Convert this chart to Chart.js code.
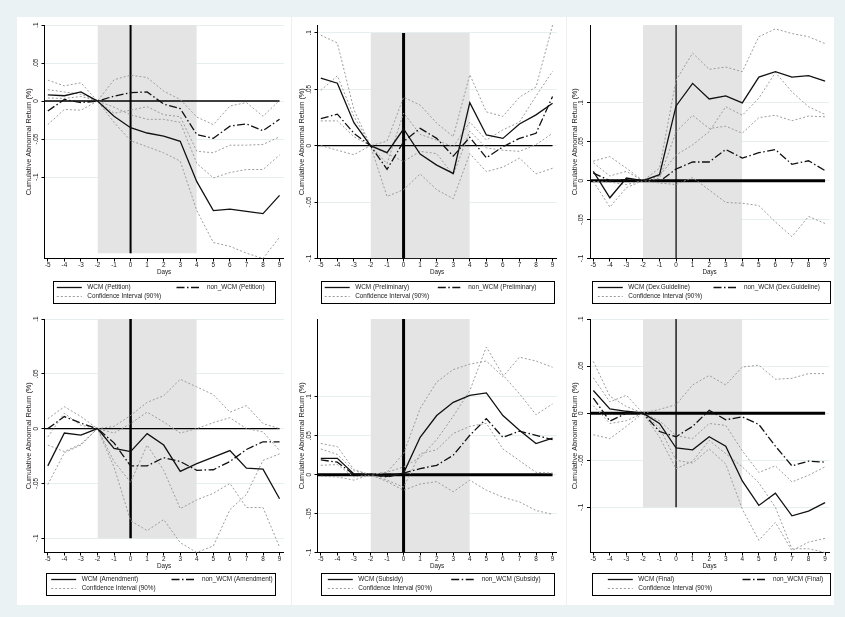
<!DOCTYPE html>
<html>
<head>
<meta charset="utf-8">
<script src="https://cdn.jsdelivr.net/npm/chart.js@4.4.1/dist/chart.umd.min.js"></script>
<style>
    html, body { margin: 0; padding: 0; background: #eaf2f3; }
    body { width: 845px; height: 617px; position: relative; overflow: hidden; }
    #sheet { position: absolute; left: 17px; top: 17px; width: 817px; height: 588px; background: #fff; }
    .sep { position: absolute; top: 17px; width: 1px; height: 588px; background: #eef0f0; }
    canvas { position: absolute; }
</style>
</head>
<body>
<div id="sheet"></div>
<div class="sep" style="left:291px"></div>
<div class="sep" style="left:566px"></div>
<canvas id="p0"></canvas><canvas id="p1"></canvas><canvas id="p2"></canvas>
<canvas id="p3"></canvas><canvas id="p4"></canvas><canvas id="p5"></canvas>
<script>
// event days and axis labels
const days = [-5, -4, -3, -2, -1, 0, 1, 2, 3, 4, 5, 6, 7, 8, 9];
const yTickVals = [-0.1, -0.05, 0, 0.05, 0.1];
const yTickLabels = ['-.1', '-.05', '0', '.05', '.1'];
const eventWindow = [-2, 4];
const eventDay = 0;

// Petition
const wcmPetition = [0.008, 0.007, 0.012, 0, -0.020, -0.035, -0.042, -0.046, -0.053, -0.106, -0.144, -0.142, -0.145, -0.148, -0.124];
const nonPetition = [-0.013, 0.002, -0.002, 0, 0.0065, 0.011, 0.012, -0.004, -0.010, -0.044, -0.049, -0.033, -0.030, -0.039, -0.024];
const ciPetition1 = [0.0275, 0.020, 0.024, 0, 0.028, 0.034, 0.031, 0.013, 0.002, -0.021, -0.031, -0.0065, -0.002, -0.020, 0.001];
const ciPetition2 = [-0.031, -0.011, -0.012, 0, -0.016, -0.012, -0.0074, -0.018, -0.0205, -0.066, -0.068, -0.058, -0.058, -0.057, -0.047];
const ciPetition3 = [0.015, 0.012, 0.009, 0, -0.008, -0.018, -0.024, -0.024, -0.028, -0.082, -0.101, -0.094, -0.090, -0.090, -0.071];
const ciPetition4 = [0.004, 0.0035, 0.006, 0, -0.028, -0.052, -0.060, -0.068, -0.079, -0.144, -0.186, -0.191, -0.200, -0.207, -0.179];

// Preliminary
const wcmPreliminary = [0.060, 0.0554, 0.0204, 0, -0.0062, 0.0148, -0.0074, -0.0172, -0.0246, 0.0382, 0.0095, 0.0065, 0.0193, 0.0273, 0.0376];
const nonPreliminary = [0.024, 0.028, 0.011, 0, -0.021, 0.0036, 0.0154, 0.0065, -0.0092, 0.0074, -0.0107, -0.001, 0.0065, 0.011, 0.0436];
const ciPreliminary1 = [0.098, 0.091, 0.032, 0, 0.004, 0.043, 0.036, 0.020, 0.008, 0.063, 0.030, 0.026, 0.043, 0.052, 0.107];
const ciPreliminary2 = [0.049, 0.062, 0.026, 0, -0.016, 0.029, 0.010, 0.005, -0.001, 0.021, 0.005, 0.014, 0.021, 0.044, 0.066];
const ciPreliminary3 = [0.022, 0.022, 0.008, 0, -0.007, -0.014, -0.005, -0.007, -0.026, 0.013, -0.002, -0.004, -0.005, 0.001, 0.011];
const ciPreliminary4 = [0, -0.004, -0.008, 0, -0.045, -0.039, -0.025, -0.039, -0.047, -0.007, -0.023, -0.019, -0.011, -0.025, -0.020];

// Dev.Guideline
const wcmGuideline = [0.012, -0.022, 0.0034, 0, 0.0077, 0.096, 0.125, 0.105, 0.109, 0.100, 0.133, 0.140, 0.133, 0.135, 0.128];
const nonGuideline = [0.0098, 0, 0.0013, 0, -0.001, 0.015, 0.024, 0.024, 0.040, 0.029, 0.036, 0.040, 0.021, 0.0256, 0.013];
const ciGuideline1 = [0.025, 0.031, 0.016, 0, 0.016, 0.129, 0.164, 0.143, 0.146, 0.140, 0.185, 0.195, 0.189, 0.185, 0.176];
const ciGuideline2 = [-0.001, -0.034, -0.009, 0, 0.003, 0.063, 0.084, 0.067, 0.070, 0.061, 0.081, 0.084, 0.077, 0.083, 0.082];
const ciGuideline3 = [0.023, 0.006, 0.012, 0, 0.006, 0.033, 0.046, 0.063, 0.095, 0.084, 0.106, 0.139, 0.114, 0.095, 0.085];
const ciGuideline4 = [-0.001, -0.002, -0.005, 0, -0.003, -0.005, 0.004, -0.012, -0.028, -0.029, -0.032, -0.053, -0.072, -0.046, -0.055];

// Amendment
const wcmAmendment = [-0.034, -0.004, -0.006, 0, -0.018, -0.021, -0.0046, -0.015, -0.039, -0.032, -0.026, -0.020, -0.036, -0.037, -0.064];
const nonAmendment = [0, 0.011, 0.005, 0, -0.013, -0.034, -0.034, -0.0265, -0.030, -0.038, -0.0375, -0.030, -0.019, -0.012, -0.012];
const ciAmendment1 = [0.009, 0.020, 0.011, 0, 0.002, 0.012, 0.024, 0.030, 0.045, 0.038, 0.031, 0.015, 0.021, 0.0046, 0];
const ciAmendment2 = [-0.0076, 0.014, 0.003, 0, -0.004, 0.0046, 0.015, 0.006, -0.004, 0, 0.0055, 0.010, 0, -0.003, -0.020];
const ciAmendment3 = [-0.015, -0.021, -0.014, 0, -0.030, -0.049, -0.015, -0.038, -0.073, -0.065, -0.059, -0.050, -0.072, -0.072, -0.108];
const ciAmendment4 = [-0.051, -0.022, -0.015, 0, -0.035, -0.084, -0.093, -0.083, -0.104, -0.113, -0.107, -0.074, -0.060, -0.029, -0.023];

// Subsidy
const wcmSubsidy = [0.021, 0.021, 0.001, 0, -0.002, 0.002, 0.048, 0.076, 0.093, 0.102, 0.105, 0.076, 0.057, 0.040, 0.047];
const nonSubsidy = [0.019, 0.016, 0, 0, -0.003, 0.002, 0.0077, 0.012, 0.025, 0.0506, 0.072, 0.048, 0.056, 0.0506, 0.045];
const ciSubsidy1 = [0.040, 0.036, 0.0064, 0, 0.0034, 0.027, 0.085, 0.119, 0.135, 0.142, 0.146, 0.126, 0.151, 0.146, 0.138];
const ciSubsidy2 = [0.033, 0.026, 0.005, 0, 0.003, 0.010, 0.022, 0.045, 0.075, 0.108, 0.164, 0.128, 0.104, 0.077, 0.091];
const ciSubsidy3 = [0.012, 0.013, -0.003, 0, -0.007, -0.016, 0.027, 0.032, 0.053, 0.062, 0.066, 0.033, 0.018, 0.003, 0.002];
const ciSubsidy4 = [-0.002, -0.003, -0.007, 0, -0.009, -0.020, -0.012, -0.009, -0.022, -0.007, -0.020, -0.029, -0.035, -0.046, -0.051];

// Final
const wcmFinal = [0.024, 0.0046, 0.002, 0, -0.011, -0.037, -0.039, -0.025, -0.035, -0.072, -0.098, -0.085, -0.109, -0.104, -0.095];
const nonFinal = [0.016, -0.0085, 0, 0, -0.0195, -0.025, -0.014, 0.003, -0.007, -0.004, -0.012, -0.035, -0.056, -0.051, -0.052];
const ciFinal1 = [0.055, 0.018, 0.007, 0, 0.004, 0.009, 0.030, 0.040, 0.030, 0.049, 0.051, 0.036, 0.037, 0.042, 0.042];
const ciFinal2 = [0.0376, 0.012, 0.019, 0, -0.008, -0.024, -0.027, -0.011, -0.013, -0.040, -0.063, -0.056, -0.073, -0.066, -0.057];
const ciFinal3 = [0.008, -0.011, -0.008, 0, -0.0255, -0.059, -0.051, -0.029, -0.043, -0.057, -0.074, -0.100, -0.144, -0.144, -0.148];
const ciFinal4 = [-0.023, -0.027, -0.014, 0, -0.0156, -0.050, -0.053, -0.038, -0.054, -0.102, -0.135, -0.116, -0.146, -0.137, -0.133];

// shaded event window height for each panel [bottom, top]
const shadeRanges = [[-0.2, 0.1], [-0.1, 0.1], [-0.1, 0.2], [-0.1, 0.1], [-0.1, 0.2], [-0.1, 0.1]];

const panels = [
    { event: 'Petition', wcm: wcmPetition, non: nonPetition, ci: [ciPetition1, ciPetition2, ciPetition3, ciPetition4] },
    { event: 'Preliminary', wcm: wcmPreliminary, non: nonPreliminary, ci: [ciPreliminary1, ciPreliminary2, ciPreliminary3, ciPreliminary4] },
    { event: 'Dev.Guideline', wcm: wcmGuideline, non: nonGuideline, ci: [ciGuideline1, ciGuideline2, ciGuideline3, ciGuideline4] },
    { event: 'Amendment', wcm: wcmAmendment, non: nonAmendment, ci: [ciAmendment1, ciAmendment2, ciAmendment3, ciAmendment4] },
    { event: 'Subsidy', wcm: wcmSubsidy, non: nonSubsidy, ci: [ciSubsidy1, ciSubsidy2, ciSubsidy3, ciSubsidy4] },
    { event: 'Final', wcm: wcmFinal, non: nonFinal, ci: [ciFinal1, ciFinal2, ciFinal3, ciFinal4] }
];

// layout (page pixels)
const colLeft = [17, 290, 566];
const colWidth = [273, 276, 268];
const plotLeft = [44.5, 317.5, 590];
const plotRight = [283.7, 556.7, 829.2];
const rowTop = [17, 308];
const rowHeight = [291, 297];
const plotTop = [25, 319];
const plotBottom = [258.5, 552.5];
const legendTop = [281, 573];
const legendBox = [[53, 222], [320.7, 233.3], [591.7, 237.6], [46, 229.3], [320.7, 233.3], [591.7, 237.6]];
const legendText = [[34.3, 154], [34.5, 147.6], [36.6, 152.3], [35.7, 156], [37.6, 161], [46.6, 181.3]];
const zeroWidth = [1.5, 1.3, 3, 1.3, 3, 3];
const eventWidth = [2, 3, 1.2, 2.5, 3, 1.3];

const FONT = "'Liberation Sans', Arial, sans-serif";
const X_MIN = -5.2, X_MAX = 9.25, X_AXIS_H = 20;

Chart.defaults.font.family = FONT;

// Stata style boxed legend drawn below the plot
const boxLegend = {
    id: 'boxLegend',
    afterDraw(chart, args, opts) {
        const ctx = chart.ctx;
        const ds = chart.data.datasets;
        ctx.save();
        ctx.strokeStyle = '#000';
        ctx.lineWidth = 1;
        ctx.setLineDash([]);
        ctx.strokeRect(Math.round(opts.left) + 0.5, Math.round(opts.top) + 0.5, Math.round(opts.width), 22);
        const items = [
            { d: ds[0], x: opts.text[0], y: opts.top + 5.5 },
            { d: ds[1], x: opts.text[1], y: opts.top + 5.5 },
            { d: ds[2], x: opts.text[0], y: opts.top + 15 }
        ];
        ctx.font = '6.4px ' + FONT;
        ctx.textBaseline = 'middle';
        items.forEach(it => {
            const x = opts.left + it.x;
            ctx.beginPath();
            ctx.setLineDash(it.d.borderDash || []);
            ctx.strokeStyle = it.d.borderColor;
            ctx.lineWidth = it.d.borderWidth;
            ctx.moveTo(x - 30.5, Math.round(it.y) + 0.5);
            ctx.lineTo(x - 5.5, Math.round(it.y) + 0.5);
            ctx.stroke();
            ctx.setLineDash([]);
            ctx.fillStyle = '#222';
            ctx.fillText(it.d.label, x, it.y + 0.5);
        });
        ctx.restore();
    }
};

function pts(arr) {
    return arr.map((v, i) => ({ x: days[i], y: v }));
}

function createPanel(idx) {
    const p = panels[idx];
    const c = idx % 3, r = Math.floor(idx / 3);
    const canvas = document.getElementById('p' + idx);
    canvas.width = colWidth[c];
    canvas.height = rowHeight[r];
    canvas.style.left = colLeft[c] + 'px';
    canvas.style.top = rowTop[r] + 'px';

    const shade = shadeRanges[idx];
    const all = [].concat(p.wcm, p.non, ...p.ci, shade);
    const yMin = Math.min(...all), yMax = Math.max(...all);
    const yW = plotLeft[c] - colLeft[c];

    new Chart(canvas.getContext('2d'), {
        type: 'line',
        data: {
            datasets: [
                { label: 'WCM (' + p.event + ')', data: pts(p.wcm), borderColor: '#111', borderWidth: 1.3, order: 0 },
                { label: 'non_WCM (' + p.event + ')', data: pts(p.non), borderColor: '#111', borderWidth: 1.3, borderDash: [8, 2.5, 1.5, 2.5], order: 0 },
                ...p.ci.map(a => ({ label: 'Confidence Interval (90%)', data: pts(a), borderColor: '#9c9c9c', borderWidth: 1, borderDash: [2, 2], order: 1 })),
                { label: 'zero', data: [{ x: X_MIN, y: 0 }, { x: days[days.length - 1], y: 0 }], borderColor: '#000', borderWidth: zeroWidth[idx], order: 5 },
                { label: 'event', data: [{ x: eventDay, y: shade[0] }, { x: eventDay, y: shade[1] }], borderColor: '#000', borderWidth: eventWidth[idx], order: 5 },
                { label: 'window', data: [{ x: eventWindow[0], y: shade[1] }, { x: eventWindow[1], y: shade[1] }], borderWidth: 0, borderColor: 'rgba(0,0,0,0)', backgroundColor: '#e4e4e4', fill: { value: shade[0] }, order: 10 }
            ]
        },
        options: {
            responsive: false,
            animation: false,
            devicePixelRatio: 1,
            clip: 3,
            elements: { point: { radius: 0 }, line: { tension: 0 } },
            layout: {
                padding: {
                    left: 0,
                    top: plotTop[r] - rowTop[r],
                    right: colLeft[c] + colWidth[c] - plotRight[c],
                    bottom: rowTop[r] + rowHeight[r] - plotBottom[r] - X_AXIS_H
                }
            },
            plugins: {
                legend: { display: false },
                tooltip: { enabled: false },
                boxLegend: { left: legendBox[idx][0] - colLeft[c], width: legendBox[idx][1], top: legendTop[r] - rowTop[r], text: legendText[idx] }
            },
            scales: {
                x: {
                    type: 'linear',
                    min: X_MIN,
                    max: X_MAX,
                    afterBuildTicks: s => { s.ticks = days.map(v => ({ value: v })); },
                    afterFit: s => { s.height = X_AXIS_H; },
                    grid: { drawOnChartArea: false, drawTicks: true, tickLength: 3, tickColor: '#000', tickWidth: 1 },
                    border: { display: true, color: '#000', width: 1 },
                    ticks: { autoSkip: false, maxRotation: 0, padding: 0, color: '#222', font: { size: 6.4 }, callback: v => String(v) },
                    title: { display: true, text: 'Days', color: '#222', font: { size: 6.3 }, padding: { top: 0, bottom: 2 } }
                },
                y: {
                    type: 'linear',
                    min: yMin,
                    max: yMax,
                    afterBuildTicks: s => { s.ticks = yTickVals.filter(v => v >= yMin - 1e-9 && v <= yMax + 1e-9).map(v => ({ value: v })); },
                    afterFit: s => { s.width = yW; },
                    grid: { color: '#e6eef0', lineWidth: 1, drawTicks: true, tickLength: 3, tickColor: '#000' },
                    border: { display: true, color: '#000', width: 1 },
                    ticks: {
                        autoSkip: false, minRotation: 90, maxRotation: 90, crossAlign: 'center', padding: 0,
                        color: '#222', font: { size: 6.4 },
                        callback: v => yTickLabels[yTickVals.indexOf(v)]
                    },
                    title: { display: true, text: 'Cumulative Abnormal Return (%)', color: '#222', font: { size: 7.3 }, padding: { top: yW - 15 - 4.4, bottom: 0 } }
                }
            }
        },
        plugins: [boxLegend]
    });
}

panels.forEach((p, i) => createPanel(i));
</script>
</body>
</html>
